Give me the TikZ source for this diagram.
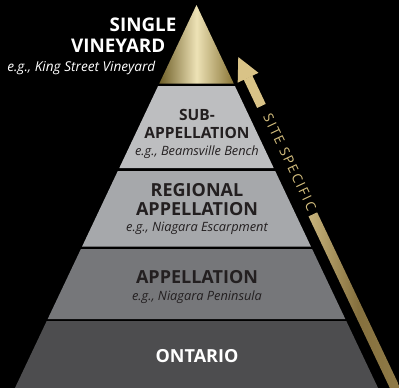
\documentclass[tikz,border=0pt]{standalone}
\usepackage{fontspec}
\setmainfont{Open Sans}
\usetikzlibrary{calc}
\definecolor{inkdark}{HTML}{231F20}
\definecolor{bandone}{HTML}{BDBEC0}
\definecolor{bandtwo}{HTML}{A6A8AB}
\definecolor{bandthree}{HTML}{76777A}
\definecolor{bandfour}{HTML}{4D4D4F}
\definecolor{golddark}{HTML}{6E5E27}
\definecolor{goldlight}{HTML}{EDE2B6}
\definecolor{goldmid}{HTML}{8A7637}
\definecolor{goldtext}{HTML}{D6C07F}
\definecolor{goldarrow}{HTML}{D9C387}
\definecolor{goldshadow}{HTML}{85703E}

\begin{document}
\begin{tikzpicture}[x=1pt, y=-1pt]
    \tikzstyle{title}=[text=inkdark, font=\bfseries\fontsize{18}{18}\selectfont, inner sep=0pt, anchor=base]
    \tikzstyle{eg}=[text=inkdark, font=\itshape\fontsize{12.8}{13}\selectfont, inner sep=0pt, anchor=base]

    \fill[black] (0,0) rectangle (399,388);
    \clip (0,0) rectangle (399,388);

    % pyramid bands
    \shade[left color=golddark, right color=goldmid, middle color=goldlight] (196.5,5) -- (233.7,83.5) -- (159.3,83.5) -- cycle;
    \fill[bandone] (158.1,86) -- (234.9,86) -- (273.7,168) -- (119.3,168) -- cycle;
    \fill[bandtwo] (117.8,171) -- (275.2,171) -- (310.9,246.5) -- (82.1,246.5) -- cycle;
    \fill[bandthree] (80.9,249) -- (312.1,249) -- (345.3,319) -- (47.7,319) -- cycle;
    \fill[bandfour] (46.7,321) -- (346.3,321) -- (379,390) -- (14,390) -- cycle;

    % site specific arrow
    \begin{scope}[shift={(210.5,-1.6)}, rotate=-64.65]
        \fill[goldarrow] (64.9,0) -- (87.8,11.5) -- (87.8,-11.5) -- cycle;
        \fill[goldarrow] (87.5,-4.75) rectangle (119,4.75);
        \node[rotate=-64.65, text=goldtext, inner sep=0pt, font=\addfontfeature{LetterSpace=14}\fontsize{13.5}{13.5}\selectfont] (sitespecific) at (182,-1.5) {SITE SPECIFIC};
        \shade[left color=goldarrow!92!black, right color=goldshadow!85!goldarrow, middle color=goldshadow] (239,-4.75) rectangle (450,4.75);
    \end{scope}

    % labels
    \node[title, text=white, anchor=base east, font=\bfseries\fontsize{18.8}{18.8}\selectfont] (single) at (176.5,31.5) {SINGLE};
    \node[title, text=white, anchor=base east, font=\bfseries\fontsize{18.8}{18.8}\selectfont] (vineyard) at (165.5,52.5) {VINEYARD};
    \node[eg, text=white, anchor=base east, font=\itshape\fontsize{13.6}{13.6}\selectfont] (kingst) at (155.5,71.7) {e.g., King Street Vineyard};

    \node[title, font=\bfseries\fontsize{15.5}{15.5}\selectfont] (sub) at (197,120) {SUB-};
    \node[title, font=\bfseries\fontsize{15.5}{15.5}\selectfont] (subapp) at (197,138.3) {APPELLATION};
    \node[eg] (beamsville) at (197,155.7) {e.g., Beamsville Bench};

    \node[title] (regional) at (197,196.7) {REGIONAL};
    \node[title] (regapp) at (197,215) {APPELLATION};
    \node[eg] (escarpment) at (197,231) {e.g., Niagara Escarpment};

    \node[title] (appellation) at (197,283.3) {APPELLATION};
    \node[eg] (peninsula) at (197,300.7) {e.g., Niagara Peninsula};

    \node[title, text=white] (ontario) at (197,362.3) {ONTARIO};
\end{tikzpicture}
\end{document}
